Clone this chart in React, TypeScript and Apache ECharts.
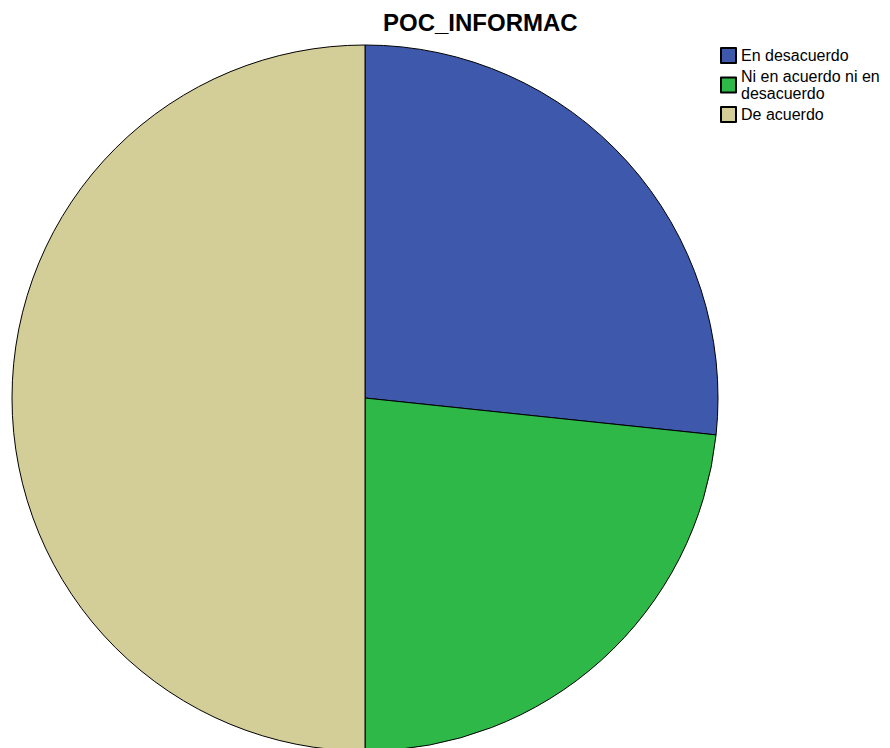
import React, { useEffect, useRef } from "react";
import * as echarts from "echarts";

const titleText = "POC_INFORMAC";
const categories = ["En desacuerdo", "Ni en acuerdo ni en desacuerdo", "De acuerdo"];
const legendLabels = ["En desacuerdo", "Ni en acuerdo ni en\ndesacuerdo", "De acuerdo"];
const values = [8, 7, 15];
const colors = ["#3E58AC", "#2EB848", "#D3CE97"];

export default function App() {
  const ref = useRef<HTMLDivElement>(null);
  useEffect(() => {
    if (!ref.current) return;
    const chart = echarts.init(ref.current, undefined, { renderer: "svg" });
    chart.setOption({
      animation: false,
      backgroundColor: "#ffffff",
      title: {
        text: titleText,
        left: 383,
        top: 10,
        padding: 0,
        textStyle: {
          fontFamily: "Liberation Sans, Arial, sans-serif",
          fontWeight: "bold",
          fontSize: 24,
          color: "#000000",
        },
      },
      legend: {
        orient: "vertical",
        left: 720,
        top: 47,
        padding: 0,
        icon: "rect",
        itemWidth: 15,
        itemHeight: 15,
        itemGap: 4,
        selectedMode: false,
        data: categories,
        formatter: (name: string) => legendLabels[categories.indexOf(name)],
        textStyle: {
          fontFamily: "Liberation Sans, Arial, sans-serif",
          fontSize: 16,
          lineHeight: 17,
          color: "#000000",
          padding: [0, 0, 0, 0],
        },
      },
      series: [
        {
          type: "pie",
          center: [365, 398],
          radius: 353,
          startAngle: 90,
          clockwise: true,
          label: { show: false },
          labelLine: { show: false },
          emphasis: { disabled: true },
          itemStyle: { borderColor: "#000000", borderWidth: 1 },
          data: categories.map((c, i) => ({
            name: c,
            value: values[i],
            itemStyle: { color: colors[i] },
          })),
        },
      ],
    });
    return () => chart.dispose();
  }, []);
  return (
    <div
      ref={ref}
      style={{ position: "fixed", left: 0, top: 0, width: 890, height: 748 }}
    />
  );
}
